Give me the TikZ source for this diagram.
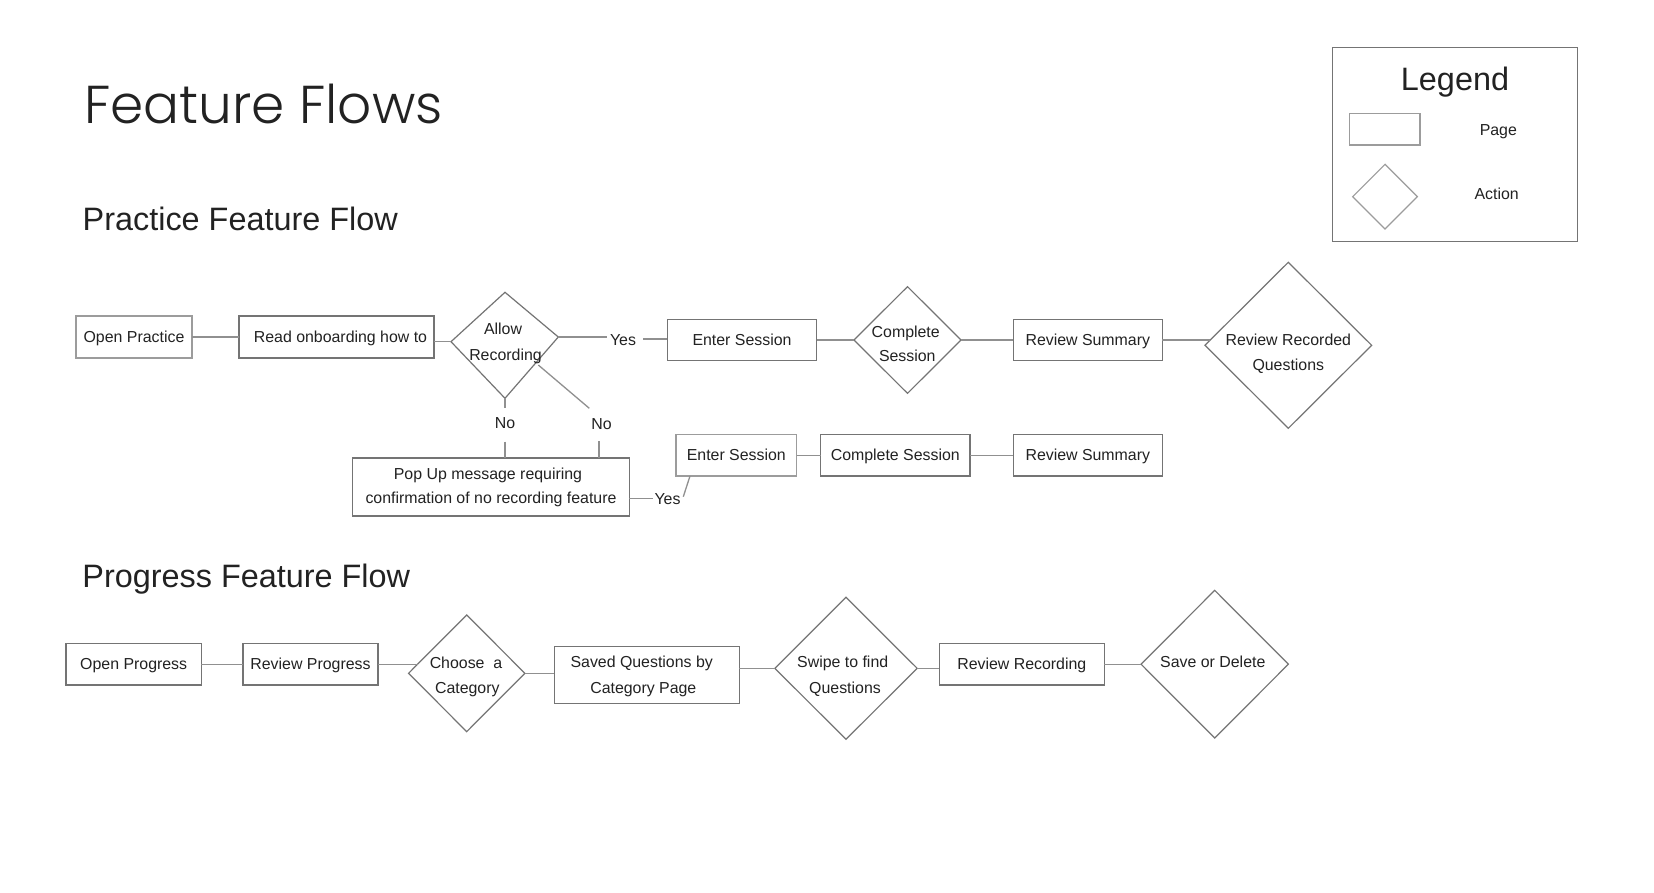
\documentclass[tikz,border=0pt]{standalone}
\usepackage{fontspec}
\setmainfont{Liberation Sans}
\IfFontExistsTF{Poppins Light}{\newfontfamily\titlefont{Poppins Light}}{%
  \IfFontExistsTF{Poppins-Light}{\newfontfamily\titlefont{Poppins-Light}}{\newfontfamily\titlefont{Poppins}}}
\usetikzlibrary{shapes.geometric}
\definecolor{txt}{HTML}{222222}
\definecolor{bord}{HTML}{747474}
\definecolor{bordl}{HTML}{9C9C9C}
\definecolor{lin}{HTML}{909090}
\begin{document}
\begin{tikzpicture}[x=1pt,y=-1pt,
  every node/.style={inner sep=0pt, outer sep=0pt, text=txt},
  body/.style={font=\fontsize{15.9}{19}\selectfont},
  pagebox/.style={draw=bord, line width=1.4pt, rectangle, body, text height=11.4pt, text depth=0pt},
  lightbox/.style={pagebox, draw=bordl},
  action/.style={draw=bord, line width=1.2pt, diamond},
  conn/.style={draw=lin, line width=1.3pt},
  lbl/.style={body, anchor=base},
  head/.style={font=\fontsize{32.4}{38}\selectfont, anchor=base west},
]
\fill[white] (0,0) rectangle (1654,893);
\useasboundingbox (0,0) rectangle (1654,893);

% titles
\node[anchor=base west] (title) at (84,123.3) {\resizebox{358.7pt}{!}{\titlefont Feature Flows}};
\node[head] (h1) at (82.7,230.7) {Practice Feature Flow};
\node[head] (h2) at (82.4,587) {Progress Feature Flow};

% legend
\node[draw=bord, line width=1.5pt, minimum width=245pt, minimum height=194.4pt] (lgbox) at (1454.8,144.5) {};
\node[font=\fontsize{32.4}{38}\selectfont, anchor=base] (lgt) at (1455,91) {Legend};
\node[draw=bordl, line width=1.3pt, minimum width=70.7pt, minimum height=31.7pt] (lgpage) at (1384.7,129.2) {};
\node[lbl] (lgpaget) at (1498.3,136) {Page};
\node[action, draw=bordl, minimum width=64.7pt, minimum height=64.7pt] (lgact) at (1385,196.7) {};
\node[lbl] (lgactt) at (1496.7,200) {Action};

% practice flow, row 1
\node[lightbox, minimum width=116pt, minimum height=42pt] (op) at (134,337) {Open Practice};
\node[pagebox, minimum width=195pt, minimum height=42pt] (rd) at (336.5,337) {\hspace{8pt}Read onboarding how to};
\coordinate (arT) at (505,292.3);
\coordinate (arR) at (558.3,337);
\coordinate (arB) at (505,398.3);
\coordinate (arL) at (451,341.7);
\coordinate (arSE) at (538.3,365);
\draw[draw=bord, line width=1.2pt] (arT) -- (arR) -- (arB) -- (arL) -- cycle;
\node[lbl] (art1) at (503,334.7) {Allow};
\node[lbl] (art2) at (505.5,360.7) {Recording};
\node[lbl] (yes1) at (623,345.2) {Yes};
\node[pagebox, minimum width=149.4pt, minimum height=41.4pt] (es1) at (742,340) {Enter Session};
\node[action, minimum width=107pt, minimum height=106.7pt] (cs) at (907.5,340) {};
\node[lbl] (cst1) at (905.7,337.4) {Complete};
\node[lbl] (cst2) at (907.3,361.7) {Session};
\node[pagebox, minimum width=149pt, minimum height=41.4pt] (rs1) at (1087.8,340) {Review Summary};
\node[action, minimum width=166.7pt, minimum height=166pt] (rrq) at (1288.3,345.3) {};
\node[lbl] (rrqt1) at (1288.3,345) {Review Recorded};
\node[lbl] (rrqt2) at (1288.3,370) {Questions};

% practice flow, row 2
\node[lbl] (no1) at (505,428.5) {No};
\node[lbl] (no2) at (601.5,429) {No};
\node[pagebox, minimum width=276.6pt, minimum height=58pt] (pu) at (491,487) {};
\node[lbl] (put1) at (488,479) {Pop Up message requiring};
\node[lbl] (put2) at (491,503.4) {confirmation of no recording feature};
\node[lbl] (yes2) at (667.5,504.7) {Yes};
\node[lightbox, minimum width=120.7pt, minimum height=41.7pt] (es2) at (736.3,455.2) {Enter Session};
\node[pagebox, minimum width=149.3pt, minimum height=41.7pt] (cs2) at (895.3,455.2) {Complete Session};
\node[pagebox, minimum width=149pt, minimum height=41.7pt] (rs2) at (1087.8,455.2) {Review Summary};

\coordinate (y1a) at (607,337);
\coordinate (y1b) at (643,339);
\coordinate (n1a) at (505,408.3);
\coordinate (n1b) at (505,441.7);
\coordinate (n2a) at (589.3,408.3);
\coordinate (n2b) at (599,441);
\coordinate (y2a) at (653,498.3);
\coordinate (y2b) at (683.3,496.7);
\coordinate (y2c) at (690,476);

\draw[conn] (op.east) -- (rd.west);
\draw[conn] (arL -| rd.east) -- (arL);
\draw[conn] (arR) -- (y1a);
\draw[conn] (y1b) -- (y1b -| es1.west);
\draw[conn] (es1.east) -- (cs.west);
\draw[conn] (cs.east) -- (rs1.west);
\draw[conn, shorten >=-5pt] (rs1.east) -- (rs1.east -| rrq.west);
\draw[conn] (arB) -- (n1a);
\draw[conn] (n1b) -- (n1b |- pu.north);
\draw[conn] (arSE) -- (n2a);
\draw[conn] (n2b) -- (n2b |- pu.north);
\draw[conn] (y2a -| pu.east) -- (y2a);
\draw[conn] (y2b) -- (y2c);
\draw[conn] (es2.east) -- (cs2.west);
\draw[conn] (cs2.east) -- (rs2.west);

% progress flow
\node[pagebox, minimum width=135.3pt, minimum height=41.7pt] (opg) at (133.7,664.2) {Open Progress};
\node[pagebox, minimum width=135pt, minimum height=41.7pt] (rpg) at (310.5,664.2) {Review Progress};
\node[action, minimum width=116.3pt, minimum height=116.7pt] (ch) at (466.7,673.3) {};
\node[lbl] (cht1) at (466,668) {Choose~~a};
\node[lbl] (cht2) at (467.3,693) {Category};
\node[pagebox, minimum width=185pt, minimum height=56.6pt] (sq) at (646.8,675) {};
\node[lbl] (sqt1) at (641.7,667.4) {Saved Questions by};
\node[lbl] (sqt2) at (643.3,693) {Category Page};
\node[action, minimum width=142.3pt, minimum height=142pt] (sw) at (846,668.3) {};
\node[lbl] (swt1) at (842.7,667.4) {Swipe to find};
\node[lbl] (swt2) at (845,693) {Questions};
\node[pagebox, minimum width=165pt, minimum height=41.7pt] (rr) at (1021.8,664.2) {Review Recording};
\node[action, minimum width=147.3pt, minimum height=147.7pt] (sd) at (1214.7,664.2) {};
\node[lbl] (sdt) at (1212.8,667.4) {Save or Delete};

\draw[conn] (opg.east) -- (rpg.west);
\draw[conn, shorten >=-9pt] (rpg.east) -- (rpg.east -| ch.west);
\draw[conn] (ch.east) -- (ch.east -| sq.west);
\draw[conn] (sw.west -| sq.east) -- (sw.west);
\draw[conn] (sw.east) -- (sw.east -| rr.west);
\draw[conn] (rr.east) -- (rr.east -| sd.west);
\end{tikzpicture}
\end{document}
